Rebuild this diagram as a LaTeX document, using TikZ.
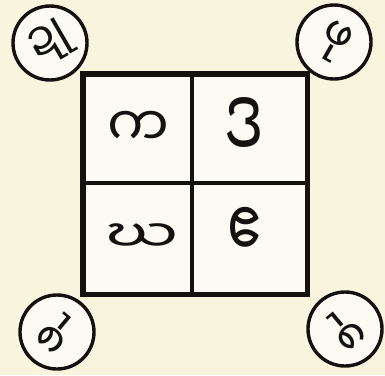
\documentclass[tikz,border=0pt]{standalone}
\usepackage{fontspec}
\newfontfamily\mya[Script=Myanmar]{Noto Sans Myanmar UI}
\definecolor{paper}{HTML}{F8F4DE}
\definecolor{cellbg}{HTML}{FCFBF3}
\definecolor{ink}{HTML}{141210}
\begin{document}
\begin{tikzpicture}[x=1pt,y=-1pt,
  frame/.style={draw=ink,line width=3.6pt},
  ring/.style={draw=ink,line width=3.4pt,fill=cellbg},
  cellchar/.style={font=\mya\fontsize{50}{50}\selectfont,text=ink,inner sep=0pt},
  cornerchar/.style={font=\mya\fontsize{44}{44}\selectfont,text=ink,inner sep=0pt}]
\fill[paper] (0,0) rectangle (385,375);
\useasboundingbox (0,0) rectangle (385,375);
% grid
\node[frame,fill=cellbg,minimum width=223pt,minimum height=219pt,inner sep=0pt,anchor=north west] (grid) at (82,73) {};
\coordinate (mt) at (192,73);
\coordinate (mb) at (192,292);
\coordinate (ml) at (82,183);
\coordinate (mr) at (305,183);
\draw[frame] (mt) -- (mb);
\draw[frame] (ml) -- (mr);
% corner circles
\node[ring,circle,minimum size=74pt] (c1) at (50,43) {};
\node[ring,circle,minimum size=74pt] (c2) at (334,42) {};
\node[ring,circle,minimum size=74pt] (c3) at (57,332) {};
\node[ring,circle,minimum size=74pt] (c4) at (345,329) {};
\draw[frame] (grid.north west) rectangle (grid.south east);
% cell letters
\node[cellchar,xscale=1.1,yscale=1.1] (a1) at (138,129) {က};
\node[cellchar,xscale=1.2,yscale=2.0] (a2) at (244,129) {ဒ};
\node[cellchar,xscale=1.3,yscale=0.9] (a3) at (142,238) {ဃ};
\node[cellchar,xscale=1.1,yscale=1.6] (a4) at (245,233) {ဧ};
% corner letters
\node[cornerchar,rotate=30] (b1) at (c1) {ဍု};
\node[cornerchar,rotate=-30] (b2) at (c2) {ဖု};
\node[cornerchar,rotate=140] (b3) at (c3) {ဖု};
\node[cornerchar,rotate=-140] (b4) at (c4) {ဖု};
\end{tikzpicture}
\end{document}
